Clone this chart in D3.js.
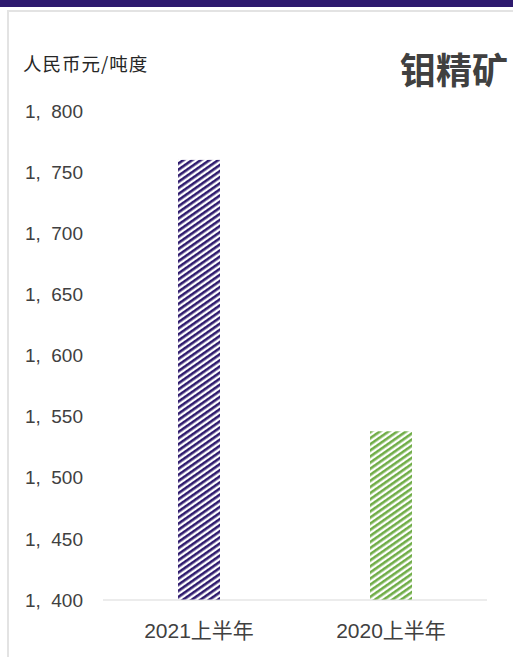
<!DOCTYPE html>
<html><head><meta charset="utf-8">
<script src="https://cdn.jsdelivr.net/npm/d3@7"></script>
<style>body{margin:0;background:#fff;}svg{display:block;}</style>
</head><body>
<svg id="c" width="513" height="657"></svg>
<script>
const categories = ["2021上半年", "2020上半年"];
const values = [1760, 1538];
const barColors = ["#2f1b6e", "#70ad47"];
const tickValues = [1400, 1450, 1500, 1550, 1600, 1650, 1700, 1750, 1800];
const unitLabel = "人民币元/吨度";
const title = "钼精矿";

const svg = d3.select("#c");
const font = "'Liberation Sans', Arial, 'Noto Sans CJK SC', sans-serif";
const cjk = "'Noto Sans CJK SC', sans-serif";

// top purple band and frame
svg.append("rect").attr("x",0).attr("y",0).attr("width",513).attr("height",7).attr("fill","#2e1a6e");
svg.append("path").attr("d","M8,657 V11 H513").attr("fill","none").attr("stroke","#e3e3e3").attr("stroke-width",2);

const defs = svg.append("defs");
barColors.forEach((c,i)=>{
  const p = defs.append("pattern").attr("id","pat"+i).attr("patternUnits","userSpaceOnUse")
    .attr("width",5).attr("height",5).attr("patternTransform","rotate(55)");
  p.append("rect").attr("width",5).attr("height",5).attr("fill","#fff");
  p.append("rect").attr("width",2.6).attr("height",5).attr("fill",c);
});

const x = d3.scaleBand().domain(categories).range([103,487]).paddingInner(0).paddingOuter(0);
const y = d3.scaleLinear().domain([1400,1800]).range([600,111]);

// bars
const bw = 42;
svg.selectAll("rect.bar").data(values).enter().append("rect").attr("class","bar")
  .attr("x",(d,i)=>x(categories[i])+x.bandwidth()/2-bw/2)
  .attr("y",d=>y(d)).attr("width",bw).attr("height",d=>y(1400)-y(d))
  .attr("fill",(d,i)=>"url(#pat"+i+")");

// baseline
svg.append("line").attr("x1",103).attr("x2",487).attr("y1",y(1400)).attr("y2",y(1400)).attr("stroke","#d9d9d9").attr("stroke-width",1.2);

// y ticks
const fmt = v => { const s = d3.format(",")(v); return s.replace(",", ",  "); };
svg.selectAll("text.yt").data(tickValues).enter().append("text").attr("class","yt")
  .attr("x",83).attr("y",d=>y(d)).attr("dy","0.35em").attr("text-anchor","end")
  .style("white-space","pre")
  .attr("font-family",font).attr("font-size",19).attr("fill","#404040").text(fmt);

// x labels
svg.selectAll("text.xt").data(categories).enter().append("text").attr("class","xt")
  .attr("x",d=>x(d)+x.bandwidth()/2).attr("y",631).attr("dy","0.35em").attr("text-anchor","middle")
  .attr("font-family",font).attr("font-size",21).attr("fill","#404040").text(d=>d);

svg.append("text").attr("x",23).attr("y",65).attr("dy","0.35em").attr("font-family",cjk)
  .attr("font-size",18.5).attr("letter-spacing",1).attr("fill","#262626").text(unitLabel);
svg.append("text").attr("x",508).attr("y",71).attr("dy","0.35em").attr("text-anchor","end").attr("font-family",cjk)
  .attr("font-size",36).attr("font-weight","bold").attr("fill","#404040").text(title);
</script>
</body></html>
